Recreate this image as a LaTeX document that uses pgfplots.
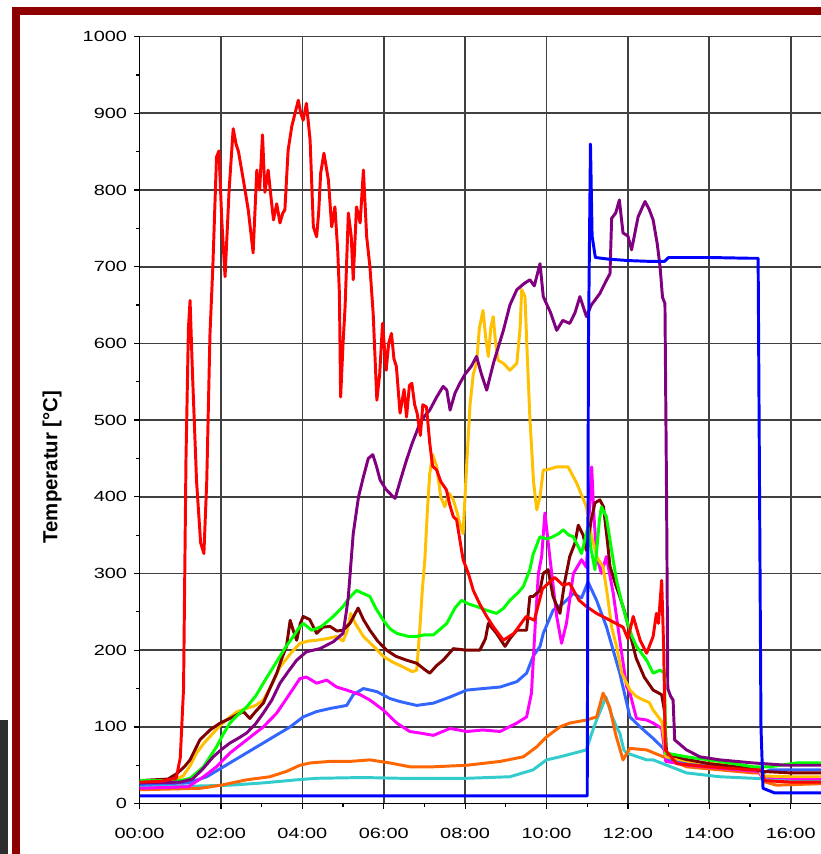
\documentclass[border=0pt]{standalone}
\usepackage{pgfplots}
\pgfplotsset{compat=1.18}
\usepackage{fontspec}
\setmainfont{Liberation Sans}
\usepackage{graphicx}

\definecolor{framered}{HTML}{8E0000}
\definecolor{darkblock}{HTML}{2E2E2E}
\definecolor{cRed}{HTML}{FF0000}
\definecolor{cPurple}{HTML}{800080}
\definecolor{cGold}{HTML}{FFC000}
\definecolor{cBrown}{HTML}{800000}
\definecolor{cGreen}{HTML}{00FF00}
\definecolor{cMagenta}{HTML}{FF00FF}
\definecolor{cLblue}{HTML}{3366FF}
\definecolor{cOrange}{HTML}{FF6600}
\definecolor{cCyan}{HTML}{33CCCC}
\definecolor{cBlue}{HTML}{0000FF}

% tick labels of the original are stretched sideways
\newcommand{\sx}[1]{\scalebox{1.35}[1]{#1}}

\begin{document}
\begin{tikzpicture}
\useasboundingbox (0,0) rectangle (205.25mm,213.5mm);
\fill[white] (0,0) rectangle (205.25mm,213.5mm);
\fill[darkblock] (0,0) rectangle (2mm,33.5mm);
\draw[line width=1.9mm, framered] (4.0mm,-3mm) -- (4.0mm,210.7mm) -- (215mm,210.7mm);
\node[rotate=90, font=\bfseries\fontsize{14.5}{16}\selectfont] at (13mm,96.75mm) {Temperatur [°C]};

\begin{axis}[
    at={(34.9mm,12.6mm)}, anchor=south west,
    scale only axis,
    width=170.35mm, height=191.75mm,
    xmin=0, xmax=16.745, ymin=0, ymax=1000,
    axis x line*=bottom, axis y line*=left,
    axis line style={black, line width=1.1pt},
    xtick={0,2,...,16},
    xticklabels={\sx{00:00},\sx{02:00},\sx{04:00},\sx{06:00},\sx{08:00},\sx{10:00},\sx{12:00},\sx{14:00},\sx{16:00}},
    ytick={0,100,...,1000},
    yticklabels={\sx{0},\sx{100},\sx{200},\sx{300},\sx{400},\sx{500},\sx{600},\sx{700},\sx{800},\sx{900},\sx{1000}},
    minor x tick num=1, minor y tick num=1,
    tick align=outside,
    major tick length=1.3mm, minor tick length=0.8mm,
    tick style={black, line width=0.9pt},
    grid=major,
    major grid style={black!75, line width=1.2pt},
    tick label style={font=\fontsize{10.5}{12}\selectfont},
    xticklabel style={yshift=-3.6mm},
    yticklabel style={xshift=-0.6mm},
    every axis plot/.append style={line width=2.1pt, line join=round},
    clip=true,
]

% cyan
\addplot[cCyan] coordinates {
(0,22)(1.5,23)(2.22,24)(3.04,27)(3.86,31)(4.35,33)(5.5,34)(6.4,33)(8.04,33)(9.10,35)(9.67,44)(10.0,57)(10.33,61)(10.98,70)(11.1,90)(11.23,109)(11.46,139)(11.6,115)(11.72,100)(11.8,92)(11.9,70)(11.97,66)(12.46,57)(12.62,57)(13.44,40)(14.26,35)(15.08,33)(16.745,29)};

% orange
\addplot[cOrange] coordinates {
(0,18)(1.5,20)(2.0,24)(2.63,31)(3.2,35)(3.61,42)(3.94,50)(4.19,53)(4.68,55)(5.17,55)(5.66,57)(6.15,53)(6.64,48)(7.22,48)(8.04,50)(8.86,55)(9.43,61)(9.76,74)(10.0,87)(10.33,100)(10.57,105)(10.98,109)(11.23,113)(11.39,144)(11.55,126)(11.7,90)(11.88,57)(12.05,72)(12.46,70)(12.87,61)(13.44,48)(15.08,40)(15.25,40)(15.32,29)(15.65,24)(16.745,26)};

% light blue
\addplot[cLblue] coordinates {
(0,25)(1.2,27)(1.65,35)(2.06,48)(2.47,61)(2.88,74)(3.29,87)(3.70,100)(4.02,113)(4.35,120)(4.68,124)(5.09,128)(5.25,142)(5.50,150)(5.83,146)(6.15,137)(6.4,133)(6.81,128)(7.22,131)(7.63,139)(8.04,148)(8.44,150)(8.86,152)(9.27,159)(9.51,170)(9.67,192)(9.84,205)(9.92,222)(10.16,252)(10.41,261)(10.66,274)(10.86,268)(11.02,289)(11.23,265)(11.47,231)(11.8,170)(12.05,113)(12.3,100)(12.62,85)(12.87,72)(13.0,57)(13.85,50)(15.08,44)(15.25,44)(15.32,40)(15.5,44)(16.745,44)};

% magenta
\addplot[cMagenta] coordinates {
(0,20)(1.2,22)(1.57,35)(1.89,48)(2.22,66)(2.63,83)(3.04,100)(3.37,118)(3.7,144)(3.94,163)(4.1,165)(4.35,157)(4.6,161)(4.84,152)(5.09,148)(5.42,142)(5.66,135)(5.99,122)(6.32,105)(6.64,94)(6.89,92)(7.22,89)(7.63,98)(8.04,94)(8.44,96)(8.86,94)(9.27,105)(9.51,113)(9.63,144)(9.72,231)(9.8,300)(9.88,322)(9.96,379)(10.08,322)(10.25,244)(10.37,209)(10.49,235)(10.66,300)(10.86,318)(10.98,308)(11.11,439)(11.16,380)(11.23,322)(11.35,300)(11.47,322)(11.64,274)(11.8,213)(11.97,152)(12.05,144)(12.21,111)(12.46,109)(12.62,105)(12.83,98)(12.9,70)(12.93,55)(13.5,50)(14.5,45)(15.2,42)(15.3,35)(16,33)(16.745,33)};

% gold
\addplot[cGold] coordinates {
(0,28)(0.8,30)(1.07,36)(1.25,50)(1.4,66)(1.6,80)(1.81,92)(2.0,103)(2.22,113)(2.4,120)(2.63,124)(2.85,128)(3.04,135)(3.25,155)(3.45,178)(3.7,195)(3.94,209)(4.15,212)(4.35,213)(4.6,215)(4.84,218)(5.0,212)(5.1,225)(5.19,248)(5.3,235)(5.5,218)(5.75,205)(5.99,192)(6.2,185)(6.48,178)(6.7,172)(6.81,174)(6.89,231)(6.95,280)(7.01,318)(7.07,380)(7.13,430)(7.2,455)(7.3,440)(7.4,400)(7.5,387)(7.6,405)(7.71,396)(7.8,380)(7.87,365)(7.95,352)(8.04,444)(8.12,520)(8.2,560)(8.28,574)(8.35,620)(8.44,643)(8.5,610)(8.57,583)(8.63,620)(8.69,635)(8.75,600)(8.81,578)(8.94,574)(9.10,565)(9.27,574)(9.35,620)(9.39,670)(9.47,661)(9.53,580)(9.59,504)(9.68,420)(9.76,383)(9.84,400)(9.92,435)(10.0,435)(10.25,439)(10.53,439)(10.74,418)(10.98,387)(11.1,350)(11.25,320)(11.39,309)(11.5,270)(11.6,230)(11.72,205)(11.85,170)(12.05,148)(12.2,140)(12.38,135)(12.52,132)(12.62,122)(12.83,107)(12.9,80)(12.93,61)(13.5,55)(14.5,50)(15.2,46)(15.3,36)(16,35)(16.745,35)};

% dark red
\addplot[cBrown] coordinates {
(0,30)(0.7,32)(0.91,39)(1.1,48)(1.24,57)(1.48,83)(1.73,96)(1.98,105)(2.22,111)(2.4,116)(2.55,120)(2.71,111)(2.85,120)(3.04,131)(3.2,150)(3.37,170)(3.5,190)(3.61,205)(3.7,239)(3.78,225)(3.86,213)(3.95,235)(4.02,244)(4.18,240)(4.35,222)(4.5,230)(4.68,231)(4.85,225)(5.0,226)(5.17,235)(5.37,255)(5.5,240)(5.66,226)(5.85,212)(6.07,200)(6.3,192)(6.56,187)(6.81,183)(7.0,175)(7.13,170)(7.3,180)(7.46,187)(7.71,202)(8.04,200)(8.36,200)(8.5,215)(8.57,235)(8.77,222)(8.98,205)(9.1,215)(9.27,226)(9.51,226)(9.59,270)(9.67,270)(9.84,278)(9.92,300)(10.04,305)(10.16,270)(10.33,248)(10.45,290)(10.57,322)(10.7,340)(10.78,363)(10.9,350)(10.98,330)(11.1,370)(11.19,392)(11.31,396)(11.4,387)(11.5,340)(11.56,309)(11.7,285)(11.8,270)(11.92,250)(12.05,222)(12.2,190)(12.4,165)(12.62,148)(12.83,142)(12.9,120)(12.95,65)(13.4,58)(14,52)(15,46)(15.3,42)(16,40)(16.745,40)};

% green
\addplot[cGreen] coordinates {
(0,30)(1.0,30)(1.24,33)(1.57,48)(1.89,74)(2.05,90)(2.22,105)(2.4,115)(2.63,126)(2.85,140)(3.04,157)(3.25,175)(3.45,192)(3.6,205)(3.78,218)(3.9,228)(4.02,235)(4.23,226)(4.47,231)(4.76,244)(5.0,257)(5.15,268)(5.33,278)(5.45,275)(5.66,270)(5.8,255)(5.99,239)(6.15,228)(6.32,222)(6.6,218)(6.81,218)(7.0,220)(7.22,220)(7.4,228)(7.55,235)(7.75,255)(7.91,265)(8.1,260)(8.28,257)(8.53,252)(8.77,248)(8.95,255)(9.1,265)(9.3,275)(9.43,283)(9.59,305)(9.67,325)(9.84,348)(10.0,345)(10.16,348)(10.3,352)(10.41,357)(10.55,350)(10.66,348)(10.86,326)(11.02,361)(11.1,330)(11.19,305)(11.3,370)(11.35,387)(11.47,374)(11.6,330)(11.72,291)(11.85,262)(11.97,239)(12.1,218)(12.21,205)(12.46,187)(12.62,170)(12.79,174)(12.9,170)(12.93,66)(13.44,61)(14.26,55)(15.08,48)(15.49,48)(16.14,53)(16.745,53)};

% purple
\addplot[cPurple] coordinates {
(0,27)(1.0,28)(1.3,32)(1.55,45)(1.81,61)(2.0,70)(2.22,79)(2.45,86)(2.63,92)(2.85,104)(3.04,118)(3.25,135)(3.45,157)(3.65,172)(3.86,187)(4.1,198)(4.43,202)(4.76,211)(5.0,222)(5.08,250)(5.13,270)(5.25,352)(5.38,400)(5.5,426)(5.62,450)(5.73,455)(5.82,440)(5.91,422)(6.05,410)(6.23,400)(6.28,398)(6.4,420)(6.56,448)(6.7,470)(6.89,496)(7.0,505)(7.13,513)(7.3,530)(7.46,544)(7.55,539)(7.63,513)(7.75,535)(7.87,548)(8.0,560)(8.15,570)(8.28,583)(8.4,560)(8.53,539)(8.7,575)(8.94,617)(9.1,650)(9.27,670)(9.45,678)(9.59,683)(9.7,675)(9.84,704)(9.92,661)(10.1,640)(10.25,617)(10.4,630)(10.57,626)(10.7,640)(10.82,661)(10.98,635)(11.1,650)(11.31,665)(11.45,680)(11.56,691)(11.6,763)(11.7,770)(11.79,787)(11.88,744)(12.0,740)(12.09,722)(12.25,765)(12.42,785)(12.52,775)(12.62,761)(12.72,730)(12.79,700)(12.85,660)(12.91,652)(12.95,400)(12.98,150)(13.05,140)(13.11,135)(13.15,83)(13.44,70)(13.77,61)(14.26,57)(15.08,53)(15.9,50)(16.745,50)};

% red
\addplot[cRed] coordinates {
(0,28)(0.5,29)(0.9,33)(1.0,60)(1.08,150)(1.14,450)(1.2,620)(1.24,656)(1.3,560)(1.4,420)(1.5,340)(1.58,326)(1.65,420)(1.73,613)(1.8,700)(1.89,843)(1.95,851)(2.02,760)(2.1,687)(2.2,800)(2.3,880)(2.37,860)(2.43,850)(2.55,813)(2.67,774)(2.79,718)(2.88,826)(2.95,800)(3.02,872)(3.08,797)(3.16,826)(3.23,790)(3.29,761)(3.37,782)(3.45,757)(3.52,770)(3.57,774)(3.65,852)(3.74,883)(3.82,900)(3.9,917)(3.96,900)(4.02,891)(4.1,913)(4.19,865)(4.27,752)(4.35,739)(4.4,770)(4.45,822)(4.53,848)(4.64,813)(4.72,752)(4.8,778)(4.87,720)(4.91,665)(4.94,530)(5.0,600)(5.05,648)(5.13,770)(5.2,740)(5.25,683)(5.33,778)(5.42,757)(5.5,826)(5.58,739)(5.66,700)(5.74,639)(5.83,526)(5.9,560)(5.97,626)(6.06,565)(6.12,600)(6.19,613)(6.25,580)(6.31,570)(6.4,509)(6.5,540)(6.56,504)(6.63,545)(6.69,548)(6.76,520)(6.82,509)(6.9,480)(6.96,520)(7.05,517)(7.13,470)(7.2,440)(7.3,435)(7.4,420)(7.54,409)(7.62,390)(7.71,374)(7.79,370)(7.95,318)(8.08,300)(8.2,278)(8.36,260)(8.53,244)(8.7,230)(8.94,213)(9.2,222)(9.5,244)(9.7,239)(9.9,280)(10.2,295)(10.4,285)(10.57,287)(10.8,265)(10.98,257)(11.23,248)(11.56,239)(11.88,230)(12.0,215)(12.13,244)(12.3,213)(12.46,196)(12.62,218)(12.7,248)(12.75,235)(12.83,291)(12.88,200)(12.92,70)(13.2,52)(14,48)(15,44)(15.3,44)(15.35,30)(16,28)(16.745,28)};

% blue
\addplot[cBlue] coordinates {
(0,10)(11.0,10)(11.03,600)(11.08,860)(11.12,740)(11.2,712)(11.5,710)(12,708)(12.5,707)(12.9,707)(13.0,712)(14,712)(15,711)(15.2,711)(15.27,100)(15.32,20)(15.6,14)(16.745,14)};

\end{axis}
\end{tikzpicture}
\end{document}
